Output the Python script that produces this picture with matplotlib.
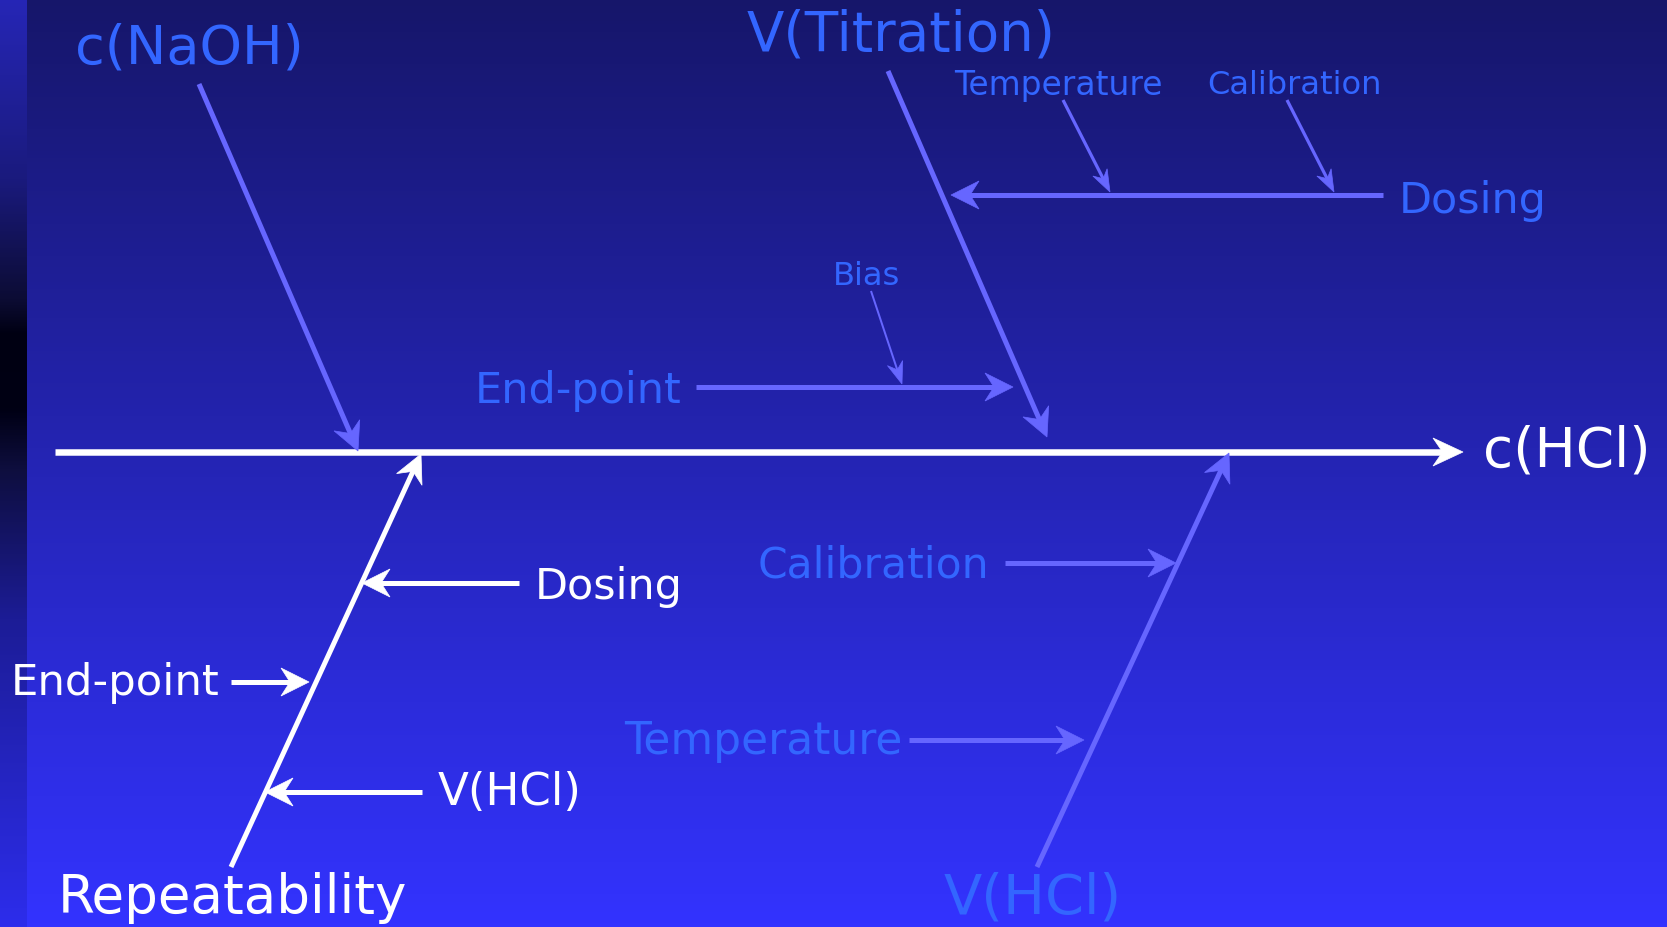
import matplotlib
matplotlib.use("Agg")
import matplotlib.pyplot as plt
import numpy as np
from matplotlib.patches import Polygon

# canvas in pixels (y grows downwards like the slide)
W, H = 1667, 928

# colours
WHITE = "#ffffff"
LINE_BLUE = "#6666ff"
TEXT_BLUE = "#3366ff"

# main spine
spine_start = (55, 453)
spine_end = (1463, 453)
effect_label = "c(HCl)"

# main cause bones: label, start, tip, colour
bone_labels = ["c(NaOH)", "V(Titration)", "V(HCl)", "Repeatability"]
bone_starts = [(199, 85), (888, 72), (1037, 868), (231, 868)]
bone_tips = [(358, 452), (1047, 438), (1229, 454), (421, 455)]
bone_colors = [LINE_BLUE, LINE_BLUE, LINE_BLUE, WHITE]

# sub-cause arrows
sub_starts = [(1383, 196), (696, 388), (1005, 564), (909, 741),
              (519, 584), (231, 683), (422, 793)]
sub_tips = [(951, 196), (1013, 388), (1176, 564), (1084, 741),
            (362, 584), (309, 683), (265, 793)]
sub_colors = [LINE_BLUE] * 4 + [WHITE] * 3

# small sub-sub arrows
small_starts = [(1063, 101), (1287, 101), (871, 292)]
small_tips = [(1110, 193), (1334, 193), (902, 385)]
small_widths = [3.2, 3.2, 2.0]

# text labels: text, x(left), y(centre), size, colour
labels = ["c(NaOH)", "V(Titration)", "c(HCl)", "Dosing", "Temperature", "Calibration",
          "Bias", "End-point", "Calibration", "Temperature", "V(HCl)",
          "Dosing", "End-point", "V(HCl)", "Repeatability"]
label_x = [75, 747, 1483, 1399, 954, 1207, 833, 475, 758, 624, 944, 535, 11, 438, 58]
label_y = [49, 35, 452, 201, 86, 86, 277, 391, 566, 742, 899, 587, 683, 793, 898]
label_size = [39, 39.3, 39.5, 30.9, 23.7, 23.1, 23.2, 31, 30.6, 31.7, 40.2, 30.9, 31.2, 32.5, 38.2]
label_color = [TEXT_BLUE, TEXT_BLUE, WHITE, TEXT_BLUE, TEXT_BLUE, TEXT_BLUE, TEXT_BLUE,
               TEXT_BLUE, TEXT_BLUE, TEXT_BLUE, TEXT_BLUE, WHITE, WHITE, WHITE, WHITE]

PX = 0.72  # points per pixel at dpi 100


def arrow(ax, p0, p1, color, lw_px, head_len, head_w):
    p0 = np.array(p0, float)
    p1 = np.array(p1, float)
    u = (p1 - p0) / np.hypot(*(p1 - p0))
    n = np.array([-u[1], u[0]])
    stop = p1 - 0.6 * head_len * u
    ax.plot([p0[0], stop[0]], [p0[1], stop[1]], color=color, lw=lw_px * PX,
            solid_capstyle="butt", zorder=3)
    head = [p1, p1 - head_len * u + head_w * n, p1 - 0.68 * head_len * u,
            p1 - head_len * u - head_w * n]
    ax.add_patch(Polygon(head, closed=True, facecolor=color, edgecolor=color,
                         lw=0.5, zorder=4))


fig = plt.figure(figsize=(W / 100, H / 100), dpi=100)
ax = fig.add_axes([0, 0, 1, 1])
ax.set_xlim(0, W)
ax.set_ylim(H, 0)
ax.axis("off")

# background gradient
t = np.linspace(0, 1, 256)[:, None]
top = np.array([22, 22, 106]) / 255
bot = np.array([51, 51, 255]) / 255
bg = top + (bot - top) * t[..., None]
ax.imshow(np.repeat(bg, 2, axis=1), extent=[0, W, H, 0], aspect="auto", zorder=0)

# left stripe
stops_y = [0, 180, 300, 335, 410, 470, 620, 928]
stops_c = [(38, 38, 182), (26, 26, 125), (12, 12, 52), (0, 0, 18), (0, 0, 20),
           (14, 14, 62), (28, 28, 150), (45, 45, 236)]
ys = np.linspace(0, H, 500)
sc = np.stack([np.interp(ys, stops_y, [c[k] for c in stops_c]) for k in range(3)], axis=-1) / 255
ax.imshow(np.repeat(sc[:, None, :], 2, axis=1), extent=[0, 27, H, 0], aspect="auto", zorder=1)

# spine
arrow(ax, spine_start, spine_end, WHITE, 6.5, 30, 14)

for s, e, c in zip(bone_starts, bone_tips, bone_colors):
    arrow(ax, s, e, c, 5, 28, 14)

for s, e, c in zip(sub_starts, sub_tips, sub_colors):
    arrow(ax, s, e, c, 5, 28, 14)

for s, e, w in zip(small_starts, small_tips, small_widths):
    arrow(ax, s, e, LINE_BLUE, w, 22, 8)

for txt, x, y, sz, col in zip(labels, label_x, label_y, label_size, label_color):
    ax.text(x, y, txt, fontsize=sz, color=col, ha="left", va="center",
            family="DejaVu Sans", zorder=5)

fig.savefig("out.png", dpi=100)
